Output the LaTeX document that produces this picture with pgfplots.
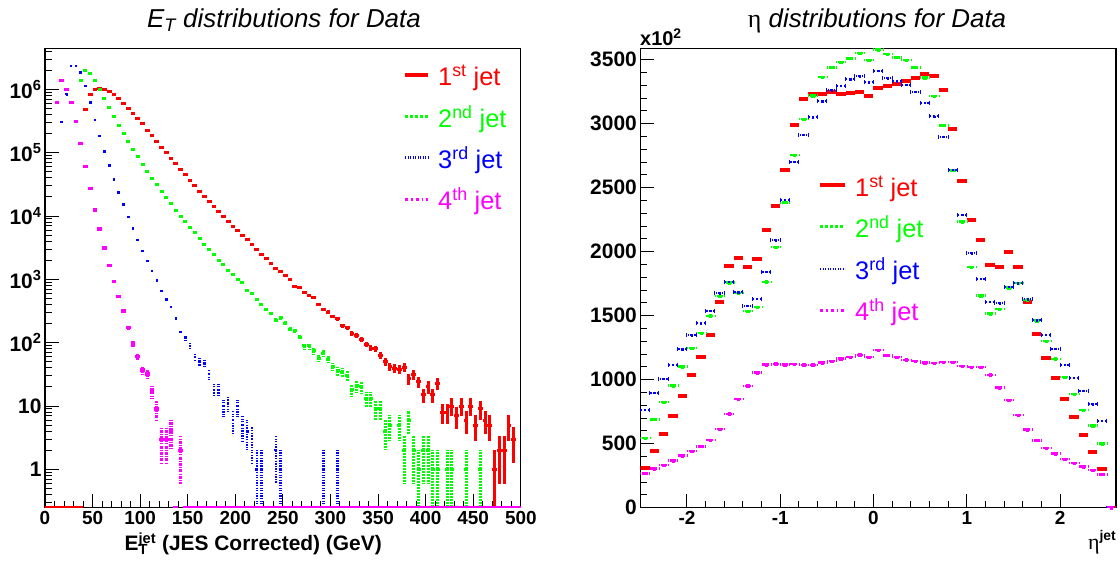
\documentclass[border=0pt]{standalone}
\usepackage{fontspec}
\setmainfont{Liberation Sans}
\newfontfamily\symfont{Liberation Serif}
\usepackage{pgfplots}
\usepackage{pgfplotstable}
\pgfplotsset{compat=1.18}
\definecolor{rred}{RGB}{255,0,0}
\definecolor{rgreen}{RGB}{0,255,0}
\definecolor{rblue}{RGB}{0,0,255}
\definecolor{rmag}{RGB}{255,0,255}

% ---------- E_T distributions (entries per 5 GeV bin) ----------
\pgfplotstableread{
x y
42.5 484000
47.5 820000
52.5 1000000
57.5 1050000
62.5 1000000
67.5 920000
72.5 820000
77.5 705000
82.5 600000
87.5 500000
92.5 420000
97.5 344000
102.5 284000
107.5 228000
112.5 188000
117.5 151000
122.5 122000
127.5 100000
132.5 82000
137.5 67000
142.5 55000
147.5 44500
152.5 37000
157.5 30000
162.5 24800
167.5 20700
172.5 17100
177.5 14300
182.5 11700
187.5 9750
192.5 8300
197.5 6900
202.5 5900
207.5 4960
212.5 4200
217.5 3500
222.5 2910
227.5 2510
232.5 2150
237.5 1790
242.5 1510
247.5 1340
252.5 1170
257.5 1000
262.5 777
267.5 750
272.5 610
277.5 560
282.5 508
287.5 394
292.5 332
297.5 305
302.5 261
307.5 237
312.5 185
317.5 171
322.5 139
327.5 131
332.5 114
337.5 94
342.5 82
347.5 80
352.5 63
357.5 50
362.5 42
367.5 39
372.5 38
377.5 41
382.5 27
387.5 31
392.5 24
397.5 15
402.5 20
407.5 15
412.5 23
417.5 8
422.5 8
427.5 10
432.5 7
437.5 10
442.5 6
447.5 10
452.5 5
457.5 9
462.5 6
467.5 5
472.5 1
477.5 2
482.5 2
487.5 5
492.5 3
}\etred

\pgfplotstableread{
x y
37.5 1370000
42.5 1970000
47.5 1770000
52.5 1360000
57.5 1000000
62.5 705000
67.5 514000
72.5 376000
77.5 271000
82.5 200000
87.5 149000
92.5 113000
97.5 85500
102.5 65600
107.5 50800
112.5 39400
117.5 30900
122.5 24600
127.5 19500
132.5 15500
137.5 12400
142.5 10000
147.5 8050
152.5 6640
157.5 5460
162.5 4340
167.5 3580
172.5 2980
177.5 2490
182.5 2020
187.5 1700
192.5 1370
197.5 1190
202.5 1010
207.5 886
212.5 672
217.5 603
222.5 485
227.5 408
232.5 340
237.5 287
242.5 226
247.5 246
252.5 202
257.5 163
262.5 153
267.5 122
272.5 90
277.5 90
282.5 74
287.5 57
292.5 68
297.5 55
302.5 42
307.5 36
312.5 34
317.5 30
322.5 18
327.5 21
332.5 20
337.5 13
342.5 13
347.5 9
352.5 9
357.5 4
362.5 5
372.5 5
377.5 2
382.5 6
387.5 2
392.5 1
397.5 2
402.5 2
407.5 1
412.5 1
422.5 1
427.5 1
442.5 1
457.5 1
}\etgreen

\pgfplotstableread{
x y
17.5 305000
22.5 836000
27.5 2340000
32.5 2340000
37.5 1850000
42.5 1130000
47.5 617000
52.5 328000
57.5 184000
62.5 105000
67.5 62400
72.5 38000
77.5 23400
82.5 15100
87.5 9660
92.5 6310
97.5 4190
102.5 2810
107.5 1970
112.5 1360
117.5 953
122.5 655
127.5 484
132.5 366
137.5 243
142.5 147
147.5 120
152.5 89
157.5 59
162.5 50
167.5 47
172.5 32
177.5 18
182.5 18
187.5 10
192.5 11
197.5 6
202.5 10
207.5 5
212.5 4
217.5 3
222.5 1
227.5 1
242.5 2
247.5 1
292.5 1
307.5 1
}\etblue

\pgfplotstableread{
x y
12.5 620000
17.5 1360000
22.5 1000000
27.5 620000
32.5 308000
37.5 141000
42.5 61000
47.5 27000
52.5 12400
57.5 6240
62.5 3130
67.5 1640
72.5 919
77.5 540
82.5 317
87.5 172
92.5 96
97.5 60
102.5 37
107.5 32
112.5 17
117.5 9
122.5 3
127.5 3
132.5 4
142.5 2
}\etmag

% ---------- eta distributions (x10^2 entries per 0.1 bin) ----------
\pgfplotstableread{
x r g b m
-2.45 310 543 766 269
-2.35 441 691 897 305
-2.25 576 824 1006 334
-2.15 719 954 1116 368
-2.05 871 1102 1238 407
-1.95 1035 1246 1348 443
-1.85 1181 1364 1442 480
-1.75 1353 1499 1538 529
-1.65 1608 1655 1676 615
-1.55 1890 1759 1765 733
-1.45 1955 1676 1684 848
-1.35 1880 1536 1577 952
-1.25 1947 1569 1634 1056
-1.15 2169 1765 1843 1118
-1.05 2359 2036 2088 1124
-0.95 2638 2385 2406 1118
-0.85 2987 2755 2703 1121
-0.75 3193 3037 2914 1116
-0.65 3236 3221 3052 1116
-0.55 3235 3365 3177 1134
-0.45 3248 3440 3263 1145
-0.35 3235 3482 3297 1165
-0.25 3240 3511 3349 1178
-0.15 3245 3553 3370 1194
-0.05 3219 3498 3323 1176
0.05 3279 3579 3414 1233
0.15 3297 3545 3357 1191
0.25 3313 3518 3331 1176
0.35 3331 3498 3305 1155
0.45 3354 3440 3250 1145
0.55 3391 3360 3162 1134
0.65 3373 3217 3057 1129
0.75 3266 2987 2896 1137
0.85 2961 2635 2640 1137
0.95 2549 2236 2289 1108
1.05 2249 1880 1989 1100
1.15 2089 1657 1788 1100
1.25 1895 1517 1611 1038
1.35 1880 1551 1598 938
1.45 1997 1720 1728 840
1.55 1880 1754 1754 725
1.65 1608 1624 1629 610
1.75 1358 1462 1465 527
1.85 1170 1303 1350 467
1.95 1016 1163 1241 422
2.05 850 1020 1116 381
2.15 707 889 1014 350
2.25 568 764 915 321
2.35 433 641 808 295
2.45 305 500 678 261
2.55 0 0 0 0
}\etadata

\pgfplotsset{
  rootax/.style={
    scale only axis, anchor=south west,
    axis line style={line width=1.2bp},
    tick style={black, line width=1bp},
    major tick length=14bp, minor tick length=7bp,
    tick pos=left,
    /pgf/number format/assume math mode=true,
    /pgf/number format/1000 sep={},
    xticklabel style={font=\bfseries\fontsize{19}{19}\selectfont},
    yticklabel style={font=\bfseries\fontsize{21}{21}\selectfont},
  },
}

\begin{document}
\begin{tikzpicture}[x=1bp,y=1bp]

% ================= left panel =================
\begin{scope}[shift={(45,55.3)}]
\begin{axis}[rootax, name=etax,
  at={(0,0)}, width=475.8bp, height=459.4bp,
  xmin=0, xmax=500, ymode=log, ymin=0.248, ymax=4.45e6,
  xtick={0,50,...,500}, minor x tick num=4,
  ytick={1,10,100,1000,10000,100000,1000000},
  yticklabels={1,10,10\textsuperscript{2},10\textsuperscript{3},10\textsuperscript{4},10\textsuperscript{5},10\textsuperscript{6}},
  minor ytick={0.3,0.4,0.5,0.6,0.7,0.8,0.9,2,3,4,5,6,7,8,9,20,30,40,50,60,70,80,90,200,300,400,500,600,700,800,900,2000,3000,4000,5000,6000,7000,8000,9000,20000,30000,40000,50000,60000,70000,80000,90000,200000,300000,400000,500000,600000,700000,800000,900000,2000000,3000000,4000000},
]
\addplot[rred, line width=3bp] coordinates {(0,0.25) (40,0.25)};
\addplot[rred, only marks, mark=square*, mark size=0.7bp,
  error bars/.cd, x dir=both, x fixed=2.5, y dir=both, y explicit,
  error mark=none, error bar style={line width=3bp, solid}]
  table[x=x, y=y, y error plus expr={sqrt(\thisrow{y})}, y error minus expr={min(sqrt(\thisrow{y}),0.9*\thisrow{y})}]{\etred};
\addplot[rgreen, only marks, mark=square*, mark size=0.7bp,
  error bars/.cd, x dir=both, x fixed=2.5, y dir=both, y explicit,
  error mark=none, error bar style={line width=3bp, dash pattern=on 2bp off 1bp}]
  table[x=x, y=y, y error plus expr={sqrt(\thisrow{y})}, y error minus expr={min(sqrt(\thisrow{y}),0.9*\thisrow{y})}]{\etgreen};
\addplot[rblue, only marks, mark=square*, mark size=0.5bp,
  error bars/.cd, x dir=both, x fixed=2.5, y dir=both, y explicit,
  error mark=none, error bar style={rblue, line width=2.4bp, dash pattern=on 1.3bp off 1.3bp}]
  table[x=x, y=y, y error plus expr={sqrt(\thisrow{y})}, y error minus expr={min(sqrt(\thisrow{y}),0.9*\thisrow{y})}]{\etblue};
\addplot[rmag, only marks, mark=square*, mark size=0.8bp,
  error bars/.cd, x dir=both, x fixed=2.5, y dir=both, y explicit,
  error mark=none, error bar style={line width=3.2bp, dash pattern=on 3bp off 1.2bp on 1bp off 1.2bp}]
  table[x=x, y=y, y error plus expr={sqrt(\thisrow{y})}, y error minus expr={min(sqrt(\thisrow{y}),0.9*\thisrow{y})}]{\etmag};
\addplot[rmag, line width=3bp] coordinates {(135,0.25) (140,0.25)};
\addplot[rmag, line width=3bp] coordinates {(145,0.25) (500,0.25)};
\end{axis}
\end{scope}

% ================= right panel =================
\begin{scope}[shift={(640.3,55.3)}]
\begin{axis}[rootax, name=etaax,
  at={(0,0)}, width=475.7bp, height=459.4bp,
  xmin=-2.5, xmax=2.6, ymin=0, ymax=3590,
  xtick={-2,-1,0,1,2}, xticklabels={-2,-1,0,1,2}, minor x tick num=4,
  ytick={0,500,...,3500}, minor y tick num=4,
]
\addplot[rred, only marks, mark=square*, mark size=0.5bp,
  error bars/.cd, x dir=both, x fixed=0.05, error mark=none,
  error bar style={line width=4bp, solid}]
  table[x=x, y=r]{\etadata};
\addplot[rgreen, only marks, mark=square*, mark size=1.2bp,
  error bars/.cd, x dir=both, x fixed=0.05, error mark=none,
  error bar style={line width=2.5bp, dash pattern=on 3bp off 1.6bp}]
  table[x=x, y=g]{\etadata};
\addplot[rblue, only marks, mark=square*, mark size=0.6bp,
  error bars/.cd, x dir=both, x fixed=0.05, error mark=|, error mark options={rblue, mark size=2bp, line width=1bp},
  error bar style={rblue, line width=2bp, dash pattern=on 1.2bp off 1.5bp}]
  table[x=x, y=b]{\etadata};
\addplot[rmag, only marks, mark=square*, mark size=1.2bp,
  error bars/.cd, x dir=both, x fixed=0.05, error mark=none,
  error bar style={line width=2.5bp, dash pattern=on 3bp off 1.5bp on 1bp off 1.5bp}]
  table[x=x, y=m]{\etadata};
\end{axis}
\end{scope}

% ---------- titles and axis titles ----------
\node[anchor=base, inner sep=0, font=\itshape\fontsize{26}{26}\selectfont] at (284,535) {E\textsubscript{T} distributions for Data};
\node[anchor=base, inner sep=0, font=\itshape\fontsize{26}{26}\selectfont] at (877,535) {{\upshape\symfont η} distributions for Data};
\node[anchor=base west, inner sep=0, font=\bfseries\fontsize{20}{20}\selectfont] at (640,517) {x10\textsuperscript{2}};
\node[anchor=base east, inner sep=0, font=\bfseries\fontsize{21}{21}\selectfont] at (382,12) {E\rlap{\textsubscript{T}}\textsuperscript{jet} (JES Corrected) (GeV)};
\node[anchor=base east, inner sep=0] at (1116,13) {{\symfont\fontsize{22}{22}\selectfont η}\raisebox{9bp}{\bfseries\fontsize{14}{14}\selectfont jet}};

% ---------- legends ----------
\begin{scope}[font=\fontsize{25.5}{25.5}\selectfont]
\draw[rred, line width=3.5bp] (405,488) -- (428,488);
\node[anchor=base west, inner sep=0, text=rred] at (438,477) {1\textsuperscript{st} jet};
\draw[rgreen, line width=2.5bp, dash pattern=on 2.5bp off 2.5bp] (405,446.3) -- (428,446.3);
\node[anchor=base west, inner sep=0, text=rgreen] at (438,435) {2\textsuperscript{nd} jet};
\draw[rblue, line width=2.5bp, dash pattern=on 1.2bp off 1.3bp] (405,405.3) -- (428,405.3);
\node[anchor=base west, inner sep=0, text=rblue] at (438,394) {3\textsuperscript{rd} jet};
\draw[rmag, line width=2.5bp, dash pattern=on 3bp off 3bp on 1.5bp off 3bp] (405,363.7) -- (428,363.7);
\node[anchor=base west, inner sep=0, text=rmag] at (438,353) {4\textsuperscript{th} jet};

\draw[rred, line width=3.5bp] (820,378) -- (845,378);
\node[anchor=base west, inner sep=0, text=rred] at (855,366.3) {1\textsuperscript{st} jet};
\draw[rgreen, line width=2.5bp, dash pattern=on 2.5bp off 2.5bp] (820,336.3) -- (845,336.3);
\node[anchor=base west, inner sep=0, text=rgreen] at (855,325.7) {2\textsuperscript{nd} jet};
\draw[rblue, line width=2.5bp, dash pattern=on 1.2bp off 1.3bp] (820,294) -- (845,294);
\node[anchor=base west, inner sep=0, text=rblue] at (855,283.7) {3\textsuperscript{rd} jet};
\draw[rmag, line width=2.5bp, dash pattern=on 3bp off 3bp on 1.5bp off 3bp] (820,252.7) -- (845,252.7);
\node[anchor=base west, inner sep=0, text=rmag] at (855,242) {4\textsuperscript{th} jet};
\end{scope}

\pgfresetboundingbox
\useasboundingbox (0,0) rectangle (1120,563);
\end{tikzpicture}
\end{document}
